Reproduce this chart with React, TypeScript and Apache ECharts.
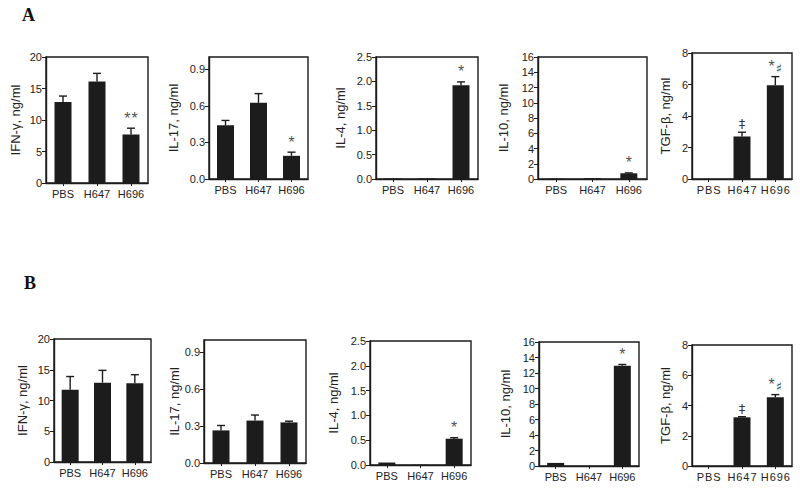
import React, { useEffect, useRef } from "react";
import * as echarts from "echarts";

const categories = ["PBS", "H647", "H696"];
const panelTitles = ["IFN-γ, ng/ml", "IL-17, ng/ml", "IL-4, ng/ml", "IL-10, ng/ml", "TGF-β, ng/ml"];
const yMax = [20, 1.0, 2.5, 16, 8];
const yInterval = [5, 0.3, 0.5, 2, 2];
const yDecimals = [0, 1, 1, 0, 0];

// Panel A
const ifnA = [12.85, 16.1, 7.7];
const ifnAErr = [13.8, 17.4, 8.7];
const il17A = [0.44, 0.625, 0.19];
const il17AErr = [0.48, 0.7, 0.22];
const il4A = [0.01, 0.012, 1.92];
const il4AErr = [0.01, 0.012, 1.99];
const il10A = [0.05, 0.1, 0.75];
const il10AErr = [0.05, 0.1, 0.8];
const tgfA = [0, 2.7, 5.95];
const tgfAErr = [0, 2.97, 6.5];
const marksA = [["", "", "**"], ["", "", "*"], ["", "", "*"], ["", "", "*"], ["", "‡", "*♯"]];

// Panel B
const ifnB = [11.75, 12.9, 12.8];
const ifnBErr = [13.9, 14.9, 14.2];
const il17B = [0.265, 0.345, 0.33];
const il17BErr = [0.305, 0.39, 0.34];
const il4B = [0.05, 0.005, 0.53];
const il4BErr = [0.05, 0.005, 0.55];
const il10B = [0.4, 0.0, 12.95];
const il10BErr = [0.4, 0.0, 13.1];
const tgfB = [0, 3.22, 4.54];
const tgfBErr = [0, 3.26, 4.72];
const marksB = [["", "", ""], ["", "", ""], ["", "", "*"], ["", "", "*"], ["", "‡", "*♯"]];

const valuesAll = [ifnA, il17A, il4A, il10A, tgfA, ifnB, il17B, il4B, il10B, tgfB];
const errsAll = [ifnAErr, il17AErr, il4AErr, il10AErr, tgfAErr, ifnBErr, il17BErr, il4BErr, il10BErr, tgfBErr];
const marksAll = [...marksA, ...marksB];

// layout: [left, top, width, height, nameGap]
const layout = [
  [46, 57, 102, 126, 24],
  [209, 57, 99, 122, 29],
  [376, 57, 102, 122, 29],
  [538, 57, 109, 122, 28],
  [692, 53, 100, 126, 20],
  [54, 339, 97, 123, 25],
  [204, 340, 102, 123, 20],
  [370, 341, 101, 124, 30],
  [539, 342, 100, 124, 27],
  [692, 345, 100, 121, 20],
];

const FONT = "Liberation Sans";
const INK = "#1c1c1c";

function markRich(m: string): string {
  if (!m) return "";
  return m
    .split("")
    .map((c) => (c === "*" ? "{s|*}" : "{d|" + c + "}"))
    .join("{g| }");
}

export default function App() {
  const ref = useRef<HTMLDivElement>(null);
  useEffect(() => {
    if (!ref.current) return;
    const chart = echarts.init(ref.current, undefined, { renderer: "svg" });
    const grid: any[] = [];
    const xAxis: any[] = [];
    const yAxis: any[] = [];
    const series: any[] = [];
    layout.forEach((l, i) => {
      const p = i % 5;
      const spaced = p === 4;
      grid.push({
        left: l[0], top: l[1], width: l[2], height: l[3],
        show: true, borderColor: INK, borderWidth: 1.4, backgroundColor: "transparent",
      });
      xAxis.push({
        type: "category", gridIndex: i, data: categories,
        axisLine: { show: true, lineStyle: { color: INK, width: 1.4 } },
        axisTick: { show: true, alignWithLabel: true, length: 3, lineStyle: { color: INK } },
        axisLabel: {
          fontFamily: FONT, fontSize: 11, color: "#222", margin: 5, interval: 0,
          formatter: (v: string) => (spaced ? v.split("").join("\u200A") : v),
        },
        splitLine: { show: false },
      });
      yAxis.push({
        type: "value", gridIndex: i, min: 0, max: yMax[p], interval: yInterval[p],
        name: panelTitles[p], nameLocation: "middle", nameRotate: 90, nameGap: l[4],
        nameTextStyle: { fontFamily: FONT, fontSize: 13, color: "#222" },
        axisLine: { show: true, lineStyle: { color: INK, width: 1.4 } },
        axisTick: { show: true, length: 4, lineStyle: { color: INK } },
        axisLabel: {
          fontFamily: FONT, fontSize: 11, color: "#222", margin: 4, showMaxLabel: p !== 1,
          formatter: (v: number) => v.toFixed(yDecimals[p]),
        },
        splitLine: { show: false },
      });
      series.push({
        type: "bar", xAxisIndex: i, yAxisIndex: i, data: valuesAll[i],
        barWidth: 17, itemStyle: { color: INK },
      });
      series.push({
        type: "custom", xAxisIndex: i, yAxisIndex: i,
        data: valuesAll[i].map((v, k) => [k, v, errsAll[i][k]]),
        encode: { x: 0, y: [1, 2] },
        renderItem: (params: any, api: any) => {
          const k = api.value(0);
          const v = api.value(1);
          const e = api.value(2);
          if (e - v <= 0) return null;
          const p0 = api.coord([k, v]);
          const p1 = api.coord([k, e]);
          const cap = 4;
          return {
            type: "group",
            children: [
              { type: "line", shape: { x1: p0[0], y1: p0[1], x2: p1[0], y2: p1[1] }, style: { stroke: INK, lineWidth: 1.4 } },
              { type: "line", shape: { x1: p1[0] - cap, y1: p1[1], x2: p1[0] + cap, y2: p1[1] }, style: { stroke: INK, lineWidth: 1.4 } },
            ],
          };
        },
        z: 3,
      });
      series.push({
        type: "scatter", xAxisIndex: i, yAxisIndex: i,
        symbolSize: 0.01,
        itemStyle: { color: INK },
        data: errsAll[i].map((e, k) => ({ value: [k, e], mark: marksAll[i][k] })),
        label: {
          show: true, position: "top", distance: 2,
          color: INK,
          formatter: (d: any) => markRich(d.data.mark),
          rich: {
            s: { fontFamily: FONT, fontSize: 16, color: INK, verticalAlign: "bottom", lineHeight: 15 },
            d: { fontFamily: "DejaVu Sans", fontSize: 13, color: "#000", verticalAlign: "bottom", lineHeight: 15 },
            g: { fontFamily: FONT, fontSize: 4, lineHeight: 15 },
          },
        },
        silent: true,
      });
    });
    chart.setOption({
      animation: false,
      backgroundColor: "#ffffff",
      grid, xAxis, yAxis, series,
      graphic: [
        { type: "text", left: 22, top: 6, style: { text: "A", font: "bold 18px 'Liberation Serif'", fill: "#111" } },
        { type: "text", left: 24, top: 274, style: { text: "B", font: "bold 18px 'Liberation Serif'", fill: "#111" } },
      ],
    });
    return () => chart.dispose();
  }, []);
  return <div ref={ref} style={{ position: "absolute", left: 0, top: 0, width: 800, height: 490 }} />;
}
